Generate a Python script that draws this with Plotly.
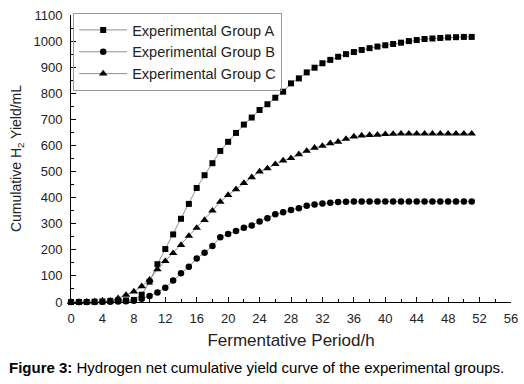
import plotly.graph_objects as go

hours = list(range(0, 52))

group_a = [0, 0, 0, 1, 2, 4, 6, 6, 8, 28,
           78, 145, 203, 259, 319, 376, 437, 486, 532, 579,
           614, 648, 680, 707, 736, 758, 783, 806, 838, 857,
           880, 898, 915, 928, 940, 950, 958, 966, 973, 979,
           984, 989, 994, 1000, 1004, 1008, 1010, 1012, 1014, 1015,
           1016, 1016]
group_b = [0, 0, 0, 0, 1, 1, 2, 3, 5, 12,
           23, 36, 55, 82, 110, 135, 167, 189, 215, 248,
           261, 272, 285, 293, 309, 321, 336, 344, 353, 359,
           369, 374, 378, 380, 383, 384, 385, 385, 385, 385,
           385, 385, 385, 385, 385, 385, 385, 385, 385, 385,
           385, 385]
group_c = [0, 0, 1, 2, 3, 5, 14, 27, 40, 60,
           85, 125, 157, 187, 218, 253, 284, 314, 350, 384,
           410, 432, 456, 478, 500, 512, 528, 542, 551, 566,
           579, 591, 598, 608, 614, 625, 634, 638, 640, 641,
           643, 644, 645, 645, 645, 645, 645, 645, 645, 645,
           645, 645]

series_names = ["Experimental Group A", "Experimental Group B", "Experimental Group C"]
x_ticks = list(range(0, 57, 4))
y_ticks = list(range(0, 1101, 100))

symbols = ["square", "circle", "triangle-up"]
marker_sizes = [6, 6.5, 7.5]
font_family = "Liberation Sans, Arial, sans-serif"

fig = go.Figure()
for name, ys, sym, ms in zip(series_names, [group_a, group_b, group_c], symbols, marker_sizes):
    fig.add_trace(go.Scatter(
        x=hours, y=ys, name=name, mode="lines+markers",
        line=dict(color="#909090", width=1),
        marker=dict(symbol=sym, size=ms, color="black"),
        cliponaxis=False,
    ))

fig.update_layout(
    width=524, height=384,
    margin=dict(l=71, r=13, t=15, b=82),
    plot_bgcolor="white", paper_bgcolor="white",
    font=dict(family=font_family, color="#222", size=13),
    showlegend=True,
    legend=dict(
        x=0.005, y=1.007, xanchor="left", yanchor="top",
        bordercolor="#999", borderwidth=1, bgcolor="rgba(255,255,255,0)",
        font=dict(size=14.5, color="#222"),
        tracegroupgap=0, itemwidth=48,
    ),
)
fig.update_xaxes(
    range=[0, 56], tickvals=x_ticks, ticks="inside", ticklen=5,
    tickcolor="black", showline=True, linecolor="black", linewidth=1,
    showgrid=False, zeroline=False, automargin=False,
    minor=dict(dtick=2, ticks="inside", ticklen=3, tickcolor="black"),
    title=dict(text="Fermentative Period/h", font=dict(size=17), standoff=9),
    tickfont=dict(size=13), ticklabelstandoff=4,
)
fig.update_yaxes(
    range=[0, 1100], tickvals=y_ticks, ticks="inside", ticklen=5,
    tickcolor="black", showline=True, linecolor="black", linewidth=1,
    showgrid=False, zeroline=False, automargin=False,
    minor=dict(dtick=50, ticks="inside", ticklen=3, tickcolor="black"),
    title=dict(text="Cumulative H<sub>2</sub> Yield/mL", font=dict(size=14), standoff=8),
    tickfont=dict(size=13), ticklabelstandoff=5,
)
fig.add_annotation(
    xref="paper", yref="paper", x=-0.1455, y=-0.2265,
    xanchor="left", yanchor="middle", showarrow=False,
    text="<b>Figure 3:</b> Hydrogen net cumulative yield curve of the experimental groups.",
    font=dict(size=15, color="black", family=font_family),
)
fig.write_html("out.html", config={"displayModeBar": False},
               post_script="document.body.style.margin='0';")
